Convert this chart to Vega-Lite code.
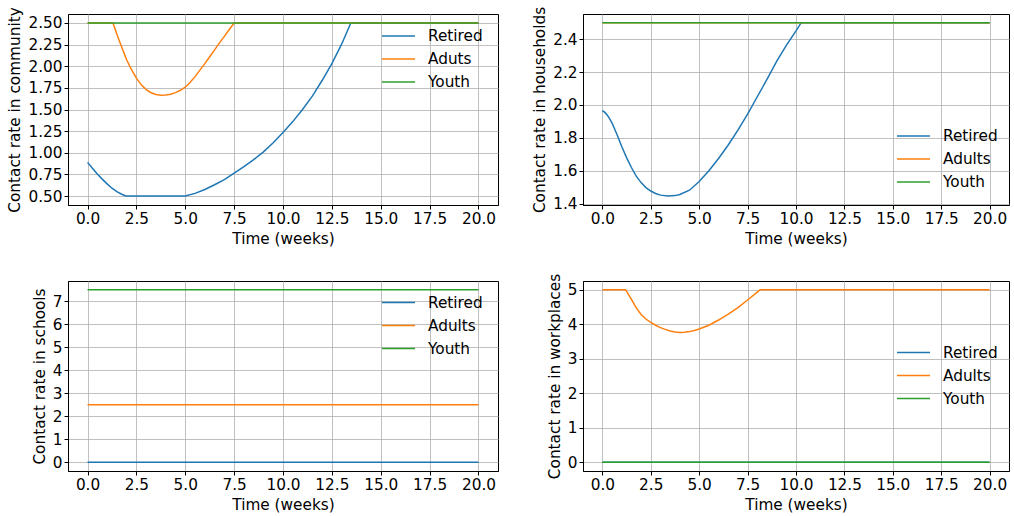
{
  "$schema": "https://vega.github.io/schema/vega-lite/v6.json",
  "padding": {"left": 7, "top": 5, "right": 2, "bottom": 2},
  "autosize": {"type": "pad"},
  "background": "white",
  "columns": 2,
  "spacing": {"row": 76, "column": 85},
  "bounds": "flush",
  "resolve": {"scale": {"color": "independent"}, "legend": {"color": "independent"}},
  "datasets": {
    "community": [
      {"g": "Retired", "t": 0, "v": 0.889}, {"g": "Retired", "t": 0.25, "v": 0.82}, {"g": "Retired", "t": 0.5, "v": 0.755},
      {"g": "Retired", "t": 0.75, "v": 0.695}, {"g": "Retired", "t": 1.0, "v": 0.64}, {"g": "Retired", "t": 1.25, "v": 0.59},
      {"g": "Retired", "t": 1.5, "v": 0.55}, {"g": "Retired", "t": 1.75, "v": 0.52}, {"g": "Retired", "t": 1.95, "v": 0.5},
      {"g": "Retired", "t": 5.0, "v": 0.5}, {"g": "Retired", "t": 5.5, "v": 0.53}, {"g": "Retired", "t": 6.0, "v": 0.575},
      {"g": "Retired", "t": 6.5, "v": 0.63}, {"g": "Retired", "t": 7.0, "v": 0.69}, {"g": "Retired", "t": 7.5, "v": 0.765},
      {"g": "Retired", "t": 8.0, "v": 0.84}, {"g": "Retired", "t": 8.5, "v": 0.92}, {"g": "Retired", "t": 9.0, "v": 1.01},
      {"g": "Retired", "t": 9.5, "v": 1.115}, {"g": "Retired", "t": 10.0, "v": 1.235}, {"g": "Retired", "t": 10.5, "v": 1.36},
      {"g": "Retired", "t": 11.0, "v": 1.5}, {"g": "Retired", "t": 11.5, "v": 1.655}, {"g": "Retired", "t": 12.0, "v": 1.835},
      {"g": "Retired", "t": 12.5, "v": 2.03}, {"g": "Retired", "t": 13.0, "v": 2.255}, {"g": "Retired", "t": 13.47, "v": 2.5},
      {"g": "Retired", "t": 20, "v": 2.5},
      {"g": "Aduts", "t": 0, "v": 2.5}, {"g": "Aduts", "t": 1.3, "v": 2.5}, {"g": "Aduts", "t": 1.5, "v": 2.37},
      {"g": "Aduts", "t": 1.75, "v": 2.22}, {"g": "Aduts", "t": 2.0, "v": 2.075}, {"g": "Aduts", "t": 2.25, "v": 1.96},
      {"g": "Aduts", "t": 2.5, "v": 1.862}, {"g": "Aduts", "t": 2.75, "v": 1.785}, {"g": "Aduts", "t": 3.0, "v": 1.73},
      {"g": "Aduts", "t": 3.25, "v": 1.694}, {"g": "Aduts", "t": 3.5, "v": 1.674}, {"g": "Aduts", "t": 3.75, "v": 1.666},
      {"g": "Aduts", "t": 4.0, "v": 1.667}, {"g": "Aduts", "t": 4.25, "v": 1.677}, {"g": "Aduts", "t": 4.5, "v": 1.695},
      {"g": "Aduts", "t": 4.75, "v": 1.722}, {"g": "Aduts", "t": 5.0, "v": 1.758}, {"g": "Aduts", "t": 5.25, "v": 1.815},
      {"g": "Aduts", "t": 5.5, "v": 1.88}, {"g": "Aduts", "t": 5.75, "v": 1.955}, {"g": "Aduts", "t": 6.0, "v": 2.03},
      {"g": "Aduts", "t": 6.25, "v": 2.11}, {"g": "Aduts", "t": 6.5, "v": 2.19}, {"g": "Aduts", "t": 6.75, "v": 2.27},
      {"g": "Aduts", "t": 7.0, "v": 2.345}, {"g": "Aduts", "t": 7.25, "v": 2.425}, {"g": "Aduts", "t": 7.5, "v": 2.5},
      {"g": "Aduts", "t": 20, "v": 2.5},
      {"g": "Youth", "t": 0, "v": 2.5}, {"g": "Youth", "t": 20, "v": 2.5}
    ],
    "households": [
      {"g": "Retired", "t": 0, "v": 1.965}, {"g": "Retired", "t": 0.1, "v": 1.958}, {"g": "Retired", "t": 0.2, "v": 1.946},
      {"g": "Retired", "t": 0.35, "v": 1.922}, {"g": "Retired", "t": 0.5, "v": 1.89}, {"g": "Retired", "t": 0.75, "v": 1.822}, {"g": "Retired", "t": 1.0, "v": 1.748},
      {"g": "Retired", "t": 1.25, "v": 1.68}, {"g": "Retired", "t": 1.5, "v": 1.62}, {"g": "Retired", "t": 1.75, "v": 1.567},
      {"g": "Retired", "t": 2.0, "v": 1.528}, {"g": "Retired", "t": 2.25, "v": 1.498}, {"g": "Retired", "t": 2.5, "v": 1.477},
      {"g": "Retired", "t": 2.75, "v": 1.462}, {"g": "Retired", "t": 3.0, "v": 1.452}, {"g": "Retired", "t": 3.4, "v": 1.446},
      {"g": "Retired", "t": 3.75, "v": 1.449}, {"g": "Retired", "t": 4.0, "v": 1.456}, {"g": "Retired", "t": 4.5, "v": 1.482},
      {"g": "Retired", "t": 5.0, "v": 1.535}, {"g": "Retired", "t": 5.5, "v": 1.6}, {"g": "Retired", "t": 6.0, "v": 1.675},
      {"g": "Retired", "t": 6.5, "v": 1.757}, {"g": "Retired", "t": 7.0, "v": 1.847}, {"g": "Retired", "t": 7.5, "v": 1.945},
      {"g": "Retired", "t": 8.0, "v": 2.05}, {"g": "Retired", "t": 8.5, "v": 2.155}, {"g": "Retired", "t": 9.0, "v": 2.265},
      {"g": "Retired", "t": 9.5, "v": 2.362}, {"g": "Retired", "t": 10.0, "v": 2.45}, {"g": "Retired", "t": 10.27, "v": 2.5},
      {"g": "Retired", "t": 20, "v": 2.5},
      {"g": "Adults", "t": 0, "v": 2.5}, {"g": "Adults", "t": 20, "v": 2.5},
      {"g": "Youth", "t": 0, "v": 2.5}, {"g": "Youth", "t": 20, "v": 2.5}
    ],
    "schools": [
      {"g": "Retired", "t": 0, "v": 0}, {"g": "Retired", "t": 20, "v": 0},
      {"g": "Adults", "t": 0, "v": 2.5}, {"g": "Adults", "t": 20, "v": 2.5},
      {"g": "Youth", "t": 0, "v": 7.5}, {"g": "Youth", "t": 20, "v": 7.5}
    ],
    "workplaces": [
      {"g": "Retired", "t": 0, "v": 0}, {"g": "Retired", "t": 20, "v": 0},
      {"g": "Adults", "t": 0, "v": 5}, {"g": "Adults", "t": 1.2, "v": 5}, {"g": "Adults", "t": 1.5, "v": 4.72},
      {"g": "Adults", "t": 1.75, "v": 4.47}, {"g": "Adults", "t": 2.0, "v": 4.28}, {"g": "Adults", "t": 2.25, "v": 4.15},
      {"g": "Adults", "t": 2.5, "v": 4.055}, {"g": "Adults", "t": 2.75, "v": 3.97}, {"g": "Adults", "t": 3.0, "v": 3.9},
      {"g": "Adults", "t": 3.25, "v": 3.85}, {"g": "Adults", "t": 3.5, "v": 3.805}, {"g": "Adults", "t": 3.75, "v": 3.775},
      {"g": "Adults", "t": 4.0, "v": 3.762}, {"g": "Adults", "t": 4.25, "v": 3.765}, {"g": "Adults", "t": 4.5, "v": 3.785},
      {"g": "Adults", "t": 4.75, "v": 3.817}, {"g": "Adults", "t": 5.0, "v": 3.86}, {"g": "Adults", "t": 5.5, "v": 3.97},
      {"g": "Adults", "t": 6.0, "v": 4.12}, {"g": "Adults", "t": 6.5, "v": 4.29}, {"g": "Adults", "t": 7.0, "v": 4.48},
      {"g": "Adults", "t": 7.5, "v": 4.7}, {"g": "Adults", "t": 8.0, "v": 4.93}, {"g": "Adults", "t": 8.15, "v": 5},
      {"g": "Adults", "t": 20, "v": 5},
      {"g": "Youth", "t": 0, "v": 0}, {"g": "Youth", "t": 20, "v": 0}
    ]
  },
  "concat": [
    {
      "width": 430, "height": 191,
      "data": {"name": "community"},
      "encoding": {
        "x": {"field": "t", "type": "quantitative", "scale": {"domain": [-1, 21], "nice": false, "zero": false},
              "axis": {"title": "Time (weeks)", "values": [0, 2.5, 5, 7.5, 10, 12.5, 15, 17.5, 20], "format": ".1f"}},
        "y": {"field": "v", "type": "quantitative", "scale": {"domain": [0.396, 2.604], "nice": false, "zero": false},
              "axis": {"title": "Contact rate in community", "values": [0.5, 0.75, 1.0, 1.25, 1.5, 1.75, 2.0, 2.25, 2.5], "format": ".2f"}},
        "color": {"field": "g", "type": "nominal",
                  "scale": {"domain": ["Retired", "Aduts", "Youth"], "range": ["#1f77b4", "#ff7f0e", "#2ca02c"]},
                  "legend": {"title": null, "orient": "none", "legendX": 313, "legendY": 10.5}}
      },
      "layer": [
        {"transform": [{"filter": {"field": "g", "equal": "Retired"}}], "mark": {"type": "line", "strokeWidth": 1.5}},
        {"transform": [{"filter": {"field": "g", "equal": "Aduts"}}], "mark": {"type": "line", "strokeWidth": 1.5}},
        {"transform": [{"filter": {"field": "g", "equal": "Youth"}}], "mark": {"type": "line", "strokeWidth": 1.5}}
      ]
    },
    {
      "width": 426, "height": 191,
      "data": {"name": "households"},
      "encoding": {
        "x": {"field": "t", "type": "quantitative", "scale": {"domain": [-1, 21], "nice": false, "zero": false},
              "axis": {"title": "Time (weeks)", "values": [0, 2.5, 5, 7.5, 10, 12.5, 15, 17.5, 20], "format": ".1f"}},
        "y": {"field": "v", "type": "quantitative", "scale": {"domain": [1.392, 2.553], "nice": false, "zero": false},
              "axis": {"title": "Contact rate in households", "values": [1.4, 1.6, 1.8, 2.0, 2.2, 2.4], "format": ".1f"}},
        "color": {"field": "g", "type": "nominal",
                  "scale": {"domain": ["Retired", "Adults", "Youth"], "range": ["#1f77b4", "#ff7f0e", "#2ca02c"]},
                  "legend": {"title": null, "orient": "none", "legendX": 313, "legendY": 110.5}}
      },
      "layer": [
        {"transform": [{"filter": {"field": "g", "equal": "Retired"}}], "mark": {"type": "line", "strokeWidth": 1.5}},
        {"transform": [{"filter": {"field": "g", "equal": "Adults"}}], "mark": {"type": "line", "strokeWidth": 1.5}},
        {"transform": [{"filter": {"field": "g", "equal": "Youth"}}], "mark": {"type": "line", "strokeWidth": 1.5}}
      ]
    },
    {
      "width": 430, "height": 190,
      "data": {"name": "schools"},
      "encoding": {
        "x": {"field": "t", "type": "quantitative", "scale": {"domain": [-1, 21], "nice": false, "zero": false},
              "axis": {"title": "Time (weeks)", "values": [0, 2.5, 5, 7.5, 10, 12.5, 15, 17.5, 20], "format": ".1f"}},
        "y": {"field": "v", "type": "quantitative", "scale": {"domain": [-0.375, 7.875], "nice": false, "zero": false},
              "axis": {"title": "Contact rate in schools", "values": [0, 1, 2, 3, 4, 5, 6, 7], "format": "d"}},
        "color": {"field": "g", "type": "nominal",
                  "scale": {"domain": ["Retired", "Adults", "Youth"], "range": ["#1f77b4", "#ff7f0e", "#2ca02c"]},
                  "legend": {"title": null, "orient": "none", "legendX": 313, "legendY": 10}}
      },
      "layer": [
        {"transform": [{"filter": {"field": "g", "equal": "Retired"}}], "mark": {"type": "line", "strokeWidth": 1.5}},
        {"transform": [{"filter": {"field": "g", "equal": "Adults"}}], "mark": {"type": "line", "strokeWidth": 1.5}},
        {"transform": [{"filter": {"field": "g", "equal": "Youth"}}], "mark": {"type": "line", "strokeWidth": 1.5}}
      ]
    },
    {
      "width": 426, "height": 190,
      "data": {"name": "workplaces"},
      "encoding": {
        "x": {"field": "t", "type": "quantitative", "scale": {"domain": [-1, 21], "nice": false, "zero": false},
              "axis": {"title": "Time (weeks)", "values": [0, 2.5, 5, 7.5, 10, 12.5, 15, 17.5, 20], "format": ".1f"}},
        "y": {"field": "v", "type": "quantitative", "scale": {"domain": [-0.25, 5.25], "nice": false, "zero": false},
              "axis": {"title": "Contact rate in workplaces", "values": [0, 1, 2, 3, 4, 5], "format": "d"}},
        "color": {"field": "g", "type": "nominal",
                  "scale": {"domain": ["Retired", "Adults", "Youth"], "range": ["#1f77b4", "#ff7f0e", "#2ca02c"]},
                  "legend": {"title": null, "orient": "none", "legendX": 313, "legendY": 60}}
      },
      "layer": [
        {"transform": [{"filter": {"field": "g", "equal": "Retired"}}], "mark": {"type": "line", "strokeWidth": 1.5}},
        {"transform": [{"filter": {"field": "g", "equal": "Adults"}}], "mark": {"type": "line", "strokeWidth": 1.5}},
        {"transform": [{"filter": {"field": "g", "equal": "Youth"}}], "mark": {"type": "line", "strokeWidth": 1.5}}
      ]
    }
  ],
  "config": {
    "font": "DejaVu Sans",
    "view": {"stroke": "black", "strokeWidth": 1},
    "axis": {
      "labelFont": "DejaVu Sans", "titleFont": "DejaVu Sans",
      "labelFontSize": 15.3, "titleFontSize": 15.3, "titleFontWeight": "normal",
      "labelColor": "black", "titleColor": "black",
      "domainColor": "black", "tickColor": "black", "tickSize": 4, "labelPadding": 2, "titlePadding": 5,
      "gridColor": "#b0b0b0", "gridWidth": 0.8, "grid": true, "labelFlush": false, "labelOverlap": false
    },
    "legend": {
      "labelFont": "DejaVu Sans", "labelFontSize": 15.3, "labelColor": "black",
      "symbolType": "stroke", "symbolSize": 1089, "symbolStrokeWidth": 1.5,
      "labelOffset": 12, "rowPadding": 0, "clipHeight": 23, "padding": 0
    }
  }
}
